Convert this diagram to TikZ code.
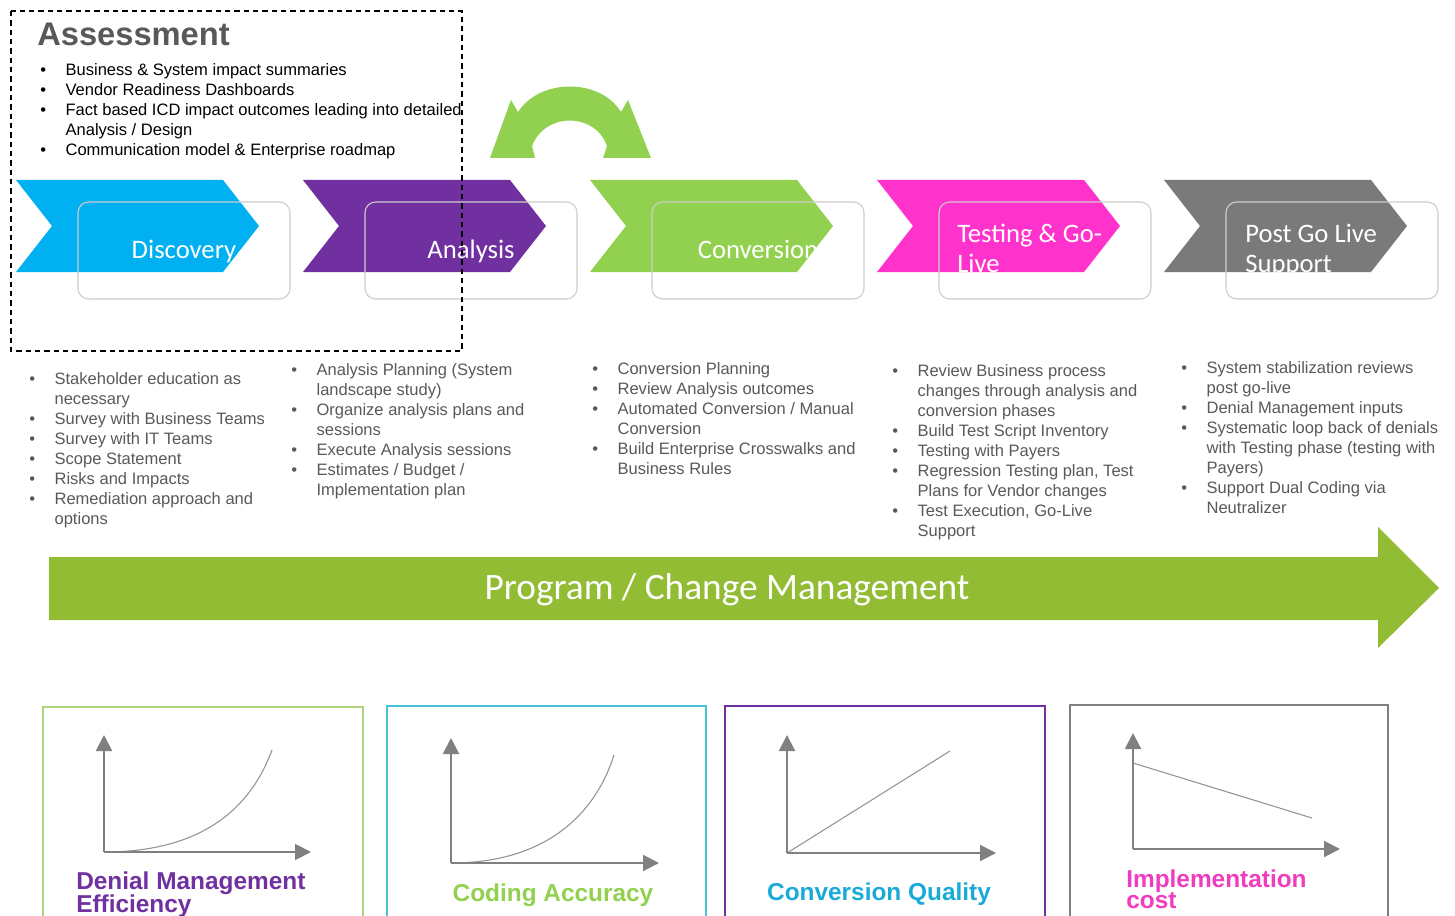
\documentclass[tikz,border=0pt]{standalone}
\usepackage{fontspec}
\setmainfont{Liberation Sans}
\newfontfamily\calfont{Carlito}
\usetikzlibrary{arrows.meta}
\definecolor{cblue}{RGB}{0,176,240}
\definecolor{cpurple}{RGB}{112,48,160}
\definecolor{cgreen}{RGB}{146,208,80}
\definecolor{cpink}{RGB}{255,51,204}
\definecolor{cgray}{RGB}{122,122,122}
\definecolor{bigarrow}{RGB}{146,188,52}
\definecolor{txtgray}{RGB}{89,89,89}
\definecolor{titlegray}{RGB}{89,89,89}
\definecolor{rectgray}{RGB}{205,205,205}
\definecolor{axisgray}{RGB}{128,128,128}
\definecolor{labcyan}{RGB}{25,170,215}
\definecolor{labpink}{RGB}{240,60,190}
\definecolor{boxgreen}{RGB}{175,212,125}
\definecolor{boxcyan}{RGB}{70,195,215}
\tikzset{
  stagebox/.style={draw=rectgray, line width=0.8pt, rounded corners=8pt,
    minimum width=159pt, minimum height=72.75pt, inner sep=0pt},
  stagetext/.style={text=white, font=\calfont\fontsize{20}{22.5}\selectfont, inner sep=0pt},
  lst/.style={inner sep=0pt, font=\fontsize{12.4}{15}\selectfont, text=txtgray},
  axis/.style={draw=axisgray, line width=1.5pt, -{Triangle[width=12pt,length=12pt]}},
  trend/.style={draw=axisgray!85, line width=0.8pt},
  kpibox/.style={line width=0.8pt},
  kpi/.style={font=\bfseries\fontsize{18.3}{15}\selectfont, inner sep=0pt},
}
\newcommand\chevshape[2]{%
  \fill[#2] (#1,180) -- ++(207,0) -- ++(36,46) -- ++(-36,46) -- ++(-207,0) -- ++(36,-46) -- cycle;}
\newcommand\blt[1]{\begin{tabular}[t]{@{}p{19pt}@{}l@{}}#1\end{tabular}}
\begin{document}
\begin{tikzpicture}[x=0.75pt,y=-0.75pt]
\useasboundingbox (0,0) rectangle (1455,916);
\clip (0,0) rectangle (1455,916);
\fill[white] (0,0) rectangle (1455,916);

% chevrons
\chevshape{16}{cblue}
\chevshape{303}{cpurple}
\chevshape{590}{cgreen}
\chevshape{877}{cpink}
\chevshape{1164}{cgray}

% curved double arrow
\fill[cgreen] (490,158) -- (511,100) -- (518,112) .. controls (540,78) and (600,78) .. (621,112)
  -- (628,100) -- (651,158) -- (603,158) -- (607,146) .. controls (595,112) and (545,112) .. (532,146)
  -- (535,158) -- cycle;

% stage boxes
\node[stagebox] (s1) at (184,250.5) {};
\node[stagebox] (s2) at (471,250.5) {};
\node[stagebox] (s3) at (758,250.5) {};
\node[stagebox] (s4) at (1045,250.5) {};
\node[stagebox] (s5) at (1332,250.5) {};
\node[stagetext, anchor=base] (t1) at (184,258) {Discovery};
\node[stagetext, anchor=base] (t2) at (471,258) {Analysis};
\node[stagetext, anchor=base] (t3) at (758,258) {Conversion};
\node[stagetext, anchor=base west] (t4) at (957,243) {\begin{tabular}[t]{@{}l@{}}Testing \& Go-\\Live\end{tabular}};
\node[stagetext, anchor=base west] (t5) at (1245,243) {\begin{tabular}[t]{@{}l@{}}Post Go Live\\Support\end{tabular}};

% assessment
\draw[black, line width=1pt, dash pattern=on 4pt off 3pt] (11,11) rectangle (462,351);
\node[anchor=base west, inner sep=0pt, text=titlegray, font=\bfseries\fontsize{24.5}{28}\selectfont] (atitle) at (37,46) {Assessment};
\node[lst, text=black, anchor=base west] (alist) at (40,76) {\blt{%
\textbullet & Business \& System impact summaries\\
\textbullet & Vendor Readiness Dashboards\\
\textbullet & Fact based ICD impact outcomes leading into detailed\\
 & Analysis / Design\\
\textbullet & Communication model \& Enterprise roadmap}};

% phase lists
\node[lst, anchor=base west] (l1) at (29,384) {\blt{%
\textbullet & Stakeholder education as\\
 & necessary\\
\textbullet & Survey with Business Teams\\
\textbullet & Survey with IT Teams\\
\textbullet & Scope Statement\\
\textbullet & Risks and Impacts\\
\textbullet & Remediation approach and\\
 & options}};
\node[lst, anchor=base west] (l2) at (291,375) {\blt{%
\textbullet & Analysis Planning (System\\
 & landscape study)\\
\textbullet & Organize analysis plans and\\
 & sessions\\
\textbullet & Execute Analysis sessions\\
\textbullet & Estimates / Budget /\\
 & Implementation plan}};
\node[lst, anchor=base west] (l3) at (592,374) {\blt{%
\textbullet & Conversion Planning\\
\textbullet & Review Analysis outcomes\\
\textbullet & Automated Conversion / Manual\\
 & Conversion\\
\textbullet & Build Enterprise Crosswalks and\\
 & Business Rules}};
\node[lst, anchor=base west] (l4) at (892,376) {\blt{%
\textbullet & Review Business process\\
 & changes through analysis and\\
 & conversion phases\\
\textbullet & Build Test Script Inventory\\
\textbullet & Testing with Payers\\
\textbullet & Regression Testing plan, Test\\
 & Plans for Vendor changes\\
\textbullet & Test Execution, Go-Live\\
 & Support}};
\node[lst, anchor=base west] (l5) at (1181,373) {\blt{%
\textbullet & System stabilization reviews\\
 & post go-live\\
\textbullet & Denial Management inputs\\
\textbullet & Systematic loop back of denials\\
 & with Testing phase (testing with\\
 & Payers)\\
\textbullet & Support Dual Coding via\\
 & Neutralizer}};

% program arrow
\fill[bigarrow] (49,557) -- (1378,557) -- (1378,527) -- (1439,588) -- (1378,648) -- (1378,620) -- (49,620) -- cycle;
\node[anchor=base, inner sep=0pt, text=white, font=\calfont\fontsize{28}{32}\selectfont] (prog) at (727,599) {Program / Change Management};

% KPI boxes
\draw[kpibox, draw=boxgreen] (43,707) rectangle (363,930);
\draw[kpibox, draw=boxcyan] (387,706) rectangle (706,930);
\draw[kpibox, draw=cpurple] (725,706) rectangle (1045,930);
\draw[kpibox, draw=axisgray] (1070,705) rectangle (1388,930);

% graph 1
\coordinate (o1) at (104,852);
\coordinate (y1) at (104,735);
\coordinate (x1) at (311,852);
\coordinate (e1) at (272,750);
\draw[trend] (o1) .. controls (200,852) and (250,810) .. (e1);
\draw[axis] (o1) -- (y1);
\draw[axis] (o1) -- (x1);
\node[kpi, text=cpurple, anchor=base west] (k1) at (76,889) {\begin{tabular}[t]{@{}l@{}}Denial Management\\Efficiency\end{tabular}};

% graph 2
\coordinate (o2) at (451,863);
\coordinate (y2) at (451,738);
\coordinate (x2) at (659,863);
\coordinate (e2) at (614,755);
\draw[trend] (o2) .. controls (545,863) and (595,815) .. (e2);
\draw[axis] (o2) -- (y2);
\draw[axis] (o2) -- (x2);
\node[kpi, text=cgreen, anchor=base] (k2) at (553,901) {Coding Accuracy};

% graph 3
\coordinate (o3) at (787,853);
\coordinate (y3) at (787,735);
\coordinate (x3) at (996,853);
\coordinate (e3) at (950,751);
\draw[trend] (o3) -- (e3);
\draw[axis] (o3) -- (y3);
\draw[axis] (o3) -- (x3);
\node[kpi, text=labcyan, anchor=base] (k3) at (879,900) {Conversion Quality};

% graph 4
\coordinate (o4) at (1133,849);
\coordinate (y4) at (1133,733);
\coordinate (x4) at (1340,849);
\coordinate (s4a) at (1133,763);
\coordinate (e4) at (1312,818);
\draw[trend] (s4a) -- (e4);
\draw[axis] (o4) -- (y4);
\draw[axis] (o4) -- (x4);
\node[kpi, text=labpink, anchor=base west] (k4) at (1126,887) {\begin{tabular}[t]{@{}l@{}}Implementation\\cost\end{tabular}};
\end{tikzpicture}
\end{document}
